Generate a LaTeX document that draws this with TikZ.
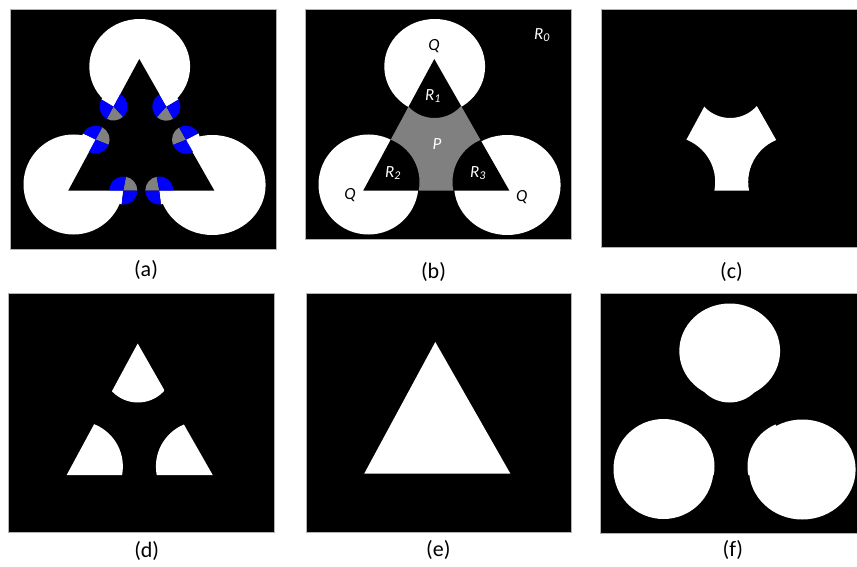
\documentclass[tikz,border=0pt]{standalone}
\usepackage{fontspec}
\setmainfont{Carlito}
\definecolor{kblue}{RGB}{0,0,255}
\definecolor{kgray}{RGB}{128,128,128}
\def\Tri{(139.3,59) -- (68.3,190.5) -- (214.3,190.5) -- cycle}
\def\OuterC{(139.7,66.5) ellipse [x radius=50.4, y radius=47.5] (73.5,184.5) circle [radius=50] (212.3,185) ellipse [x radius=53.3, y radius=50]}
\def\InnerC{(139.5,82.5) circle [radius=35.5] (79,182) circle [radius=45.5] (203,182) circle [radius=45.5]}
% sector of the small marker disc: colour, centre x, centre y, from, to
\newcommand\Sect[5]{\fill[#1] (#2,#3) -- ++(#4:14) arc [start angle=#4, end angle=#5, radius=14] -- cycle;}
% small marker disc: x, y, white from/to, gray from/to, end of 1st blue, end of 2nd blue
\newcommand\SmC[8]{%
  \Sect{white}{#1}{#2}{#3}{#4}
  \Sect{kgray}{#1}{#2}{#5}{#6}
  \Sect{kblue}{#1}{#2}{#4}{#7}
  \Sect{kblue}{#1}{#2}{#6}{#8}}
\begin{document}
\begin{tikzpicture}[x=1pt,y=-1pt,
  panel/.style={fill=black, draw=gray!60, line width=0.6pt},
  capt/.style={font=\fontsize{22}{26}\selectfont, inner sep=0pt},
  lab/.style={font=\fontsize{17}{20}\selectfont\itshape, inner sep=0pt}]
\useasboundingbox (0,0) rectangle (857,567);
\fill[white] (0,0) rectangle (857,567);
% (a)
\begin{scope}
  \path[panel] (10,9) rectangle (276,249);
  \fill[white] \OuterC;
  \fill[black] \Tri;
  \SmC{113.5}{106.5}{210.2}{298.4}{47.3}{118.4}{407.3}{210.2}
  \SmC{166.3}{106.7}{240.3}{329.6}{60.3}{132.1}{420.3}{240.3}
  \SmC{186}{139.7}{-27.1}{60.3}{158.1}{240.3}{158.1}{332.9}
  \SmC{159.3}{190.5}{0}{83.3}{180}{259}{180}{360}
  \SmC{123.3}{190.5}{96.9}{180}{280.9}{360}{280.9}{456.9}
  \SmC{95.6}{139.6}{118.4}{206.2}{-61.6}{21.4}{298.4}{118.4}
\end{scope}
% (b)
\begin{scope}[shift={(295,0)}]
  \path[panel] (10,9) rectangle (276,239);
  \fill[white] \OuterC;
  \fill[black] \Tri;
  \begin{scope}
    \clip \Tri;
    \fill[kgray, even odd rule] (0,0) rectangle (290,260) \InnerC;
  \end{scope}
\end{scope}
% (c)
\begin{scope}[shift={(590.7,0)}]
  \path[panel] (11,9) rectangle (268,247.7);
  \begin{scope}
    \clip \Tri;
    \fill[white, even odd rule] (0,0) rectangle (290,260) \InnerC;
  \end{scope}
\end{scope}
% (d)
\begin{scope}[shift={(-1.6,284.5)}]
  \path[panel] (9.9,8.8) rectangle (275.6,247.8);
  \begin{scope}
    \clip \Tri;
    \fill[white] \InnerC;
  \end{scope}
\end{scope}
% (e)
\begin{scope}[shift={(296,283)}]
  \path[panel] (10,10.3) rectangle (275.7,249.3);
  \fill[white] \Tri;
\end{scope}
% (f)
\begin{scope}[shift={(590,284.5)}]
  \path[panel] (10.7,8.8) rectangle (268,248.8);
  \fill[white] \OuterC;
  \begin{scope}
    \clip \Tri;
    \fill[white] \InnerC;
  \end{scope}
\end{scope}
% labels in (b)
\node[lab, text=black] (q1) at (434,46) {Q};
\node[lab, text=black] (q2) at (350,195) {Q};
\node[lab, text=black] (q3) at (521.7,197) {Q};
\node[lab, text=white] (r0) at (542,35) {R\textsubscript{0}};
\node[lab, text=white] (r1) at (433,96) {R\textsubscript{1}};
\node[lab, text=white] (r2) at (393,173) {R\textsubscript{2}};
\node[lab, text=white] (r3) at (478,173) {R\textsubscript{3}};
\node[lab, text=white] (p) at (437,144.5) {P};
% captions
\node[capt] (ca) at (146,269.5) {(a)};
\node[capt] (cb) at (433.5,272) {(b)};
\node[capt] (cc) at (731.5,272) {(c)};
\node[capt] (cd) at (146.7,550.5) {(d)};
\node[capt] (ce) at (438.3,550) {(e)};
\node[capt] (cf) at (732.8,550) {(f)};
\end{tikzpicture}
\end{document}
